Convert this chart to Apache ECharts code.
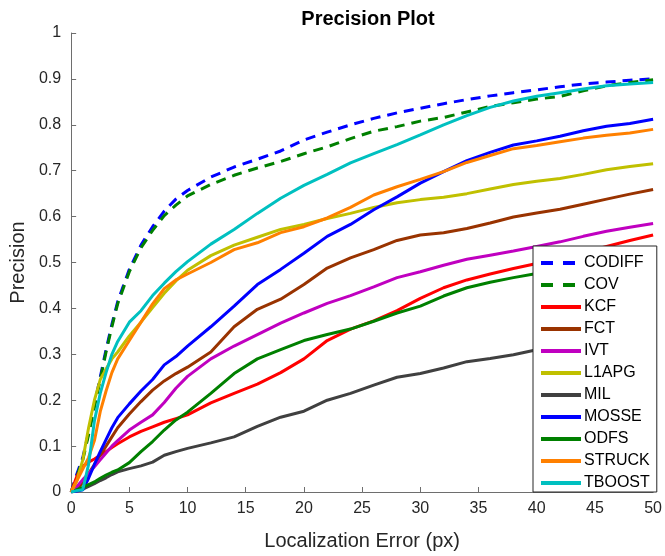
<!DOCTYPE html>
<html>
<head>
<meta charset="utf-8">
<script src="https://cdn.jsdelivr.net/npm/echarts@6/dist/echarts.min.js"></script>
<style>
  html, body { margin: 0; padding: 0; background: #fff; }
  #chart { width: 665px; height: 556px; }
</style>
</head>
<body>
<div id="chart"></div>
<script>
// Localization error thresholds (px)
var errX = [0, 0.5, 1, 1.5, 2, 2.5, 3, 3.5, 4, 5, 6, 7, 8, 9, 10, 12, 14, 16, 18, 20, 22, 24, 26, 28, 30, 32, 34, 36, 38, 40, 42, 44, 46, 48, 50];

var trackers = ['CODIFF', 'COV', 'KCF', 'FCT', 'IVT', 'L1APG', 'MIL', 'MOSSE', 'ODFS', 'STRUCK', 'TBOOST'];

var codiff = [0, 0.04, 0.075, 0.13, 0.19, 0.25, 0.31, 0.365, 0.415, 0.485, 0.538, 0.578, 0.612, 0.638, 0.657, 0.686, 0.708, 0.725, 0.743, 0.767, 0.784, 0.8, 0.814, 0.826, 0.836, 0.846, 0.855, 0.863, 0.87, 0.876, 0.883, 0.889, 0.893, 0.897, 0.9];
var cov = [0, 0.035, 0.07, 0.125, 0.185, 0.245, 0.305, 0.36, 0.41, 0.48, 0.532, 0.57, 0.602, 0.625, 0.645, 0.67, 0.69, 0.706, 0.72, 0.737, 0.752, 0.77, 0.786, 0.796, 0.808, 0.816, 0.828, 0.84, 0.848, 0.856, 0.862, 0.874, 0.885, 0.892, 0.898];
var kcf = [0, 0.035, 0.056, 0.065, 0.072, 0.08, 0.088, 0.097, 0.105, 0.12, 0.132, 0.142, 0.152, 0.16, 0.168, 0.194, 0.215, 0.235, 0.26, 0.29, 0.33, 0.355, 0.373, 0.395, 0.422, 0.445, 0.462, 0.475, 0.487, 0.498, 0.51, 0.522, 0.535, 0.548, 0.56];
var fct = [0, 0.008, 0.02, 0.04, 0.06, 0.08, 0.1, 0.12, 0.14, 0.17, 0.197, 0.222, 0.242, 0.258, 0.272, 0.305, 0.36, 0.398, 0.42, 0.452, 0.488, 0.51, 0.528, 0.548, 0.56, 0.565, 0.574, 0.586, 0.599, 0.608, 0.616, 0.627, 0.638, 0.649, 0.659];
var ivt = [0, 0.012, 0.027, 0.04, 0.055, 0.07, 0.085, 0.1, 0.112, 0.135, 0.152, 0.168, 0.195, 0.226, 0.252, 0.29, 0.318, 0.343, 0.368, 0.39, 0.411, 0.428, 0.447, 0.467, 0.48, 0.494, 0.507, 0.516, 0.525, 0.535, 0.545, 0.557, 0.568, 0.577, 0.585];
var l1apg = [0, 0.025, 0.07, 0.14, 0.2, 0.245, 0.268, 0.29, 0.305, 0.34, 0.37, 0.402, 0.433, 0.46, 0.483, 0.515, 0.538, 0.555, 0.572, 0.583, 0.596, 0.607, 0.62, 0.63, 0.637, 0.642, 0.65, 0.66, 0.67, 0.677, 0.683, 0.692, 0.702, 0.709, 0.715];
var mil = [0, 0.003, 0.006, 0.012, 0.018, 0.025, 0.031, 0.038, 0.044, 0.051, 0.057, 0.065, 0.08, 0.088, 0.095, 0.107, 0.12, 0.143, 0.163, 0.176, 0.2, 0.215, 0.233, 0.25, 0.258, 0.27, 0.284, 0.291, 0.299, 0.31, 0.318, 0.327, 0.335, 0.343, 0.35];
var mosse = [0, 0.002, 0.005, 0.03, 0.06, 0.088, 0.114, 0.14, 0.162, 0.192, 0.22, 0.245, 0.277, 0.295, 0.318, 0.36, 0.405, 0.452, 0.485, 0.52, 0.557, 0.583, 0.615, 0.643, 0.673, 0.698, 0.722, 0.74, 0.756, 0.765, 0.775, 0.787, 0.797, 0.803, 0.812];
var odfs = [0, 0.005, 0.01, 0.016, 0.022, 0.03, 0.037, 0.043, 0.048, 0.064, 0.088, 0.11, 0.135, 0.157, 0.174, 0.215, 0.258, 0.29, 0.31, 0.33, 0.343, 0.355, 0.372, 0.39, 0.405, 0.427, 0.445, 0.457, 0.467, 0.476, 0.483, 0.49, 0.497, 0.503, 0.51];
var struck = [0, 0.025, 0.05, 0.075, 0.112, 0.175, 0.22, 0.26, 0.29, 0.33, 0.37, 0.41, 0.443, 0.462, 0.475, 0.5, 0.528, 0.543, 0.565, 0.578, 0.597, 0.62, 0.647, 0.665, 0.681, 0.698, 0.718, 0.733, 0.748, 0.755, 0.763, 0.771, 0.777, 0.782, 0.79];
var tboost = [0, 0.003, 0.005, 0.06, 0.155, 0.215, 0.26, 0.3, 0.328, 0.37, 0.395, 0.428, 0.455, 0.48, 0.502, 0.54, 0.572, 0.607, 0.64, 0.668, 0.692, 0.717, 0.737, 0.757, 0.778, 0.8, 0.82, 0.838, 0.852, 0.862, 0.87, 0.878, 0.885, 0.889, 0.892];

var values = [codiff, cov, kcf, fct, ivt, l1apg, mil, mosse, odfs, struck, tboost];
var colors = ['#0000ff', '#008000', '#ff0000', '#993300', '#c000c0', '#c0c000', '#404040', '#0000ff', '#008000', '#ff8000', '#00c0c0'];
var dashed = [true, true, false, false, false, false, false, false, false, false, false];

var xTicks = [0, 5, 10, 15, 20, 25, 30, 35, 40, 45, 50];
var yTicks = [0, 0.1, 0.2, 0.3, 0.4, 0.5, 0.6, 0.7, 0.8, 0.9, 1];

var font = 'Liberation Sans, Arial, Helvetica, sans-serif';
var textColor = '#262626';
var axisColor = '#6e6e6e';

var chart = echarts.init(document.getElementById('chart'));

var series = trackers.map(function (name, i) {
    return {
        name: name,
        type: 'line',
        data: errX.map(function (x, j) { return [x, values[i][j]]; }),
        showSymbol: false,
        symbol: 'none',
        animation: false,
        lineStyle: {
            color: colors[i],
            width: 3,
            type: dashed[i] ? [10, 7] : 'solid'
        },
        itemStyle: { color: colors[i] }
    };
});

// legend keys: thick strokes, wider dashes like the original
var legendData = trackers.map(function (name, i) {
    return {
        name: name,
        lineStyle: { width: 4, type: dashed[i] ? [12, 10] : 'solid' }
    };
});

var option = {
    animation: false,
    backgroundColor: '#fff',
    textStyle: { fontFamily: font },
    title: {
        text: 'Precision Plot',
        left: 363,
        top: 4,
        textAlign: 'center',
        textStyle: { fontSize: 20, fontWeight: 'bold', color: '#000', fontFamily: font }
    },
    legend: {
        data: legendData,
        orient: 'vertical',
        left: 533,
        top: 246,
        padding: [9, 7, 1, 6],
        itemGap: 6,
        itemWidth: 40,
        itemHeight: 14,
        backgroundColor: '#fff',
        borderColor: '#262626',
        borderWidth: 1,
        borderRadius: 0,
        itemStyle: { color: 'transparent', borderColor: 'transparent', borderWidth: 0 },
        lineStyle: { width: 4 },
        textStyle: { fontSize: 16, color: '#000', fontFamily: font, padding: [0, 0, 0, -2] }
    },
    grid: { left: 70, right: 8, top: 33, bottom: 60, containLabel: false },
    xAxis: {
        type: 'value',
        min: 0,
        max: 50,
        interval: 5,
        name: 'Localization Error (px)',
        nameLocation: 'middle',
        nameGap: 39,
        nameTextStyle: { fontSize: 20, color: textColor, fontFamily: font },
        axisLine: { show: true, lineStyle: { color: axisColor, width: 1 } },
        axisTick: { show: true, inside: true, length: 5, lineStyle: { color: axisColor } },
        axisLabel: {
            fontSize: 16,
            color: textColor,
            margin: 9,
            formatter: function (v) { return xTicks.indexOf(v) >= 0 ? String(v) : ''; }
        },
        splitLine: { show: false }
    },
    yAxis: {
        type: 'value',
        min: 0,
        max: 1,
        interval: 0.1,
        name: 'Precision',
        nameLocation: 'middle',
        nameGap: 39,
        nameTextStyle: { fontSize: 20, color: textColor, fontFamily: font },
        axisLine: { show: true, lineStyle: { color: axisColor, width: 1 } },
        axisTick: { show: true, inside: true, length: 5, lineStyle: { color: axisColor } },
        axisLabel: {
            fontSize: 16,
            color: textColor,
            margin: 10,
            formatter: function (v) {
                var r = Math.round(v * 10) / 10;
                return yTicks.indexOf(r) >= 0 ? String(r) : '';
            }
        },
        splitLine: { show: false }
    },
    series: series
};

chart.setOption(option);
</script>
</body>
</html>
